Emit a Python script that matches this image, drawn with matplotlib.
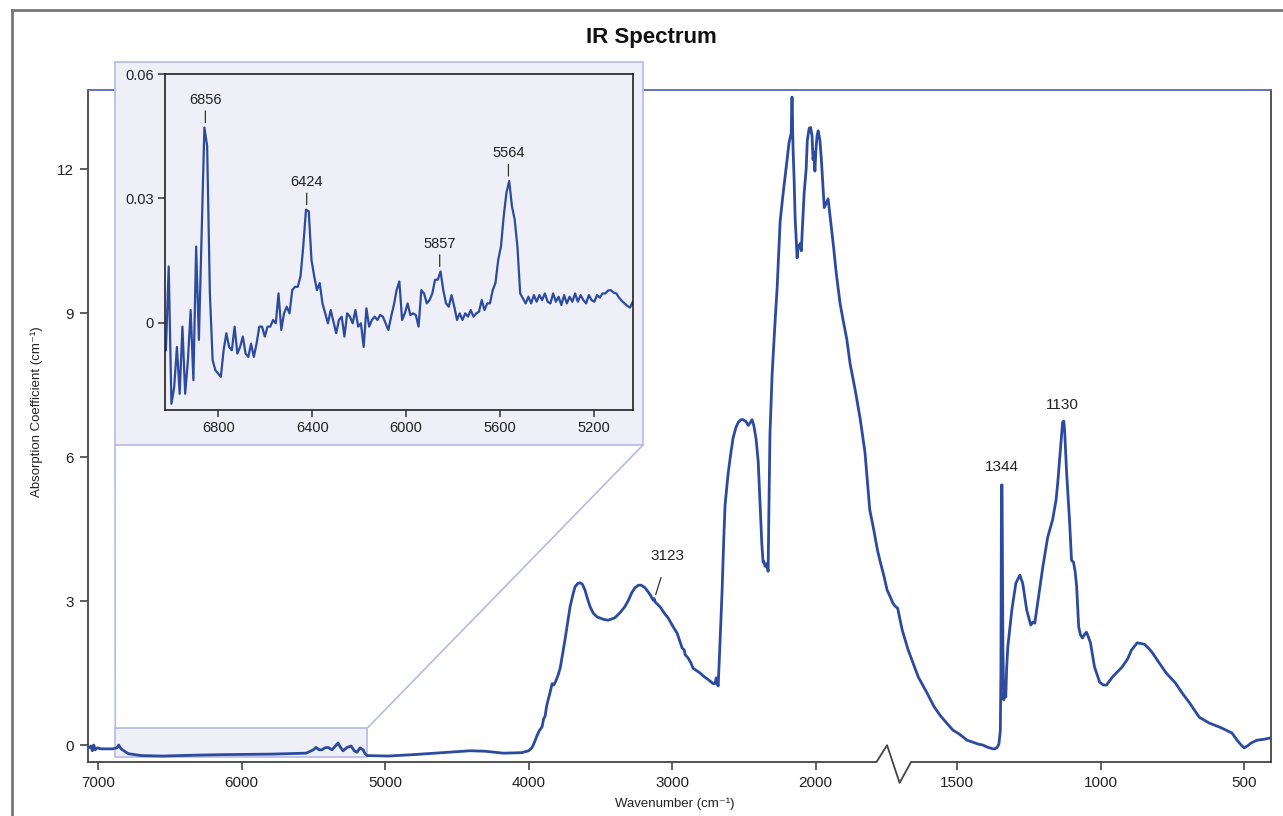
import numpy as np
import matplotlib
matplotlib.use("Agg")
import matplotlib.pyplot as plt
from matplotlib.patches import Rectangle, ConnectionPatch
from matplotlib.lines import Line2D
import matplotlib.transforms as mtransforms

plt.rcParams['font.family'] = ['Liberation Sans', 'DejaVu Sans']

# ---- main spectrum (wavenumber cm-1, absorption coefficient cm-1) ----
wn = [7062, 7049, 7040, 7030, 7020, 7005, 6980, 6900, 6870, 6856, 6840, 6790, 6700, 6554,
      6300, 6122, 5800, 5550, 5500, 5481, 5460, 5440, 5420, 5397, 5370, 5340, 5328, 5310,
      5293, 5265, 5237, 5215, 5195, 5175, 5153, 5140, 5125, 4979, 4800, 4554, 4408, 4300,
      4178, 4050, 4000, 3975, 3960, 3941, 3925, 3906, 3895, 3885, 3875, 3864, 3850, 3836,
      3825, 3815, 3795, 3780, 3760, 3746, 3728, 3711, 3690, 3676, 3655, 3641, 3625, 3606,
      3590, 3571, 3550, 3523, 3480, 3446, 3400, 3362, 3330, 3307, 3280, 3258, 3235, 3215,
      3190, 3174, 3150, 3140, 3132, 3125, 3118, 3084, 3050, 3028, 2990, 2965, 2945, 2930,
      2915, 2909, 2890, 2870, 2854, 2830, 2805, 2784, 2756, 2714, 2700, 2693, 2686, 2679,
      2668, 2652, 2640, 2631, 2610, 2590, 2575, 2555, 2540, 2520, 2505, 2485, 2470, 2455,
      2443, 2430, 2415, 2400, 2387, 2375, 2366, 2360, 2352, 2340, 2331, 2326, 2318, 2303,
      2285, 2268, 2247, 2230, 2213, 2195, 2185, 2170, 2166, 2163, 2160, 2157, 2150, 2143,
      2135, 2129, 2122, 2115, 2108, 2100, 2090, 2080, 2066, 2058, 2045, 2035, 2025, 2018,
      2012, 2005, 1998, 1990, 1982, 1970, 1960, 1950, 1940, 1913, 1895, 1878, 1855, 1829,
      1805, 1783, 1760, 1746, 1741, 1736, 1731, 1727, 1723, 1720, 1716, 1713, 1710, 1707,
      1705, 1702, 1691, 1670, 1653, 1635, 1604, 1580, 1559, 1535, 1514, 1490, 1465, 1445,
      1427, 1410, 1396, 1375, 1368, 1360, 1354, 1349, 1347, 1345, 1343, 1340, 1337, 1334,
      1330, 1327, 1323, 1309, 1295, 1281, 1271, 1257, 1243, 1236, 1229, 1219, 1201, 1184,
      1167, 1155, 1149, 1139, 1132, 1128, 1125, 1118, 1108, 1101, 1094, 1088, 1083, 1076,
      1070, 1063, 1056, 1049, 1042, 1035, 1021, 1003, 990, 979, 958, 924, 905, 892, 872,
      847, 830, 819, 800, 771, 740, 715, 690, 656, 622, 580, 542, 524, 510, 500, 488, 476,
      455, 430, 406]
absorb = [-0.05, -0.02, -0.12, 0.0, -0.1, -0.06, -0.08, -0.08, -0.06, 0.0, -0.08, -0.18, -0.22, -0.23,
          -0.21, -0.2, -0.19, -0.17, -0.1, -0.05, -0.1, -0.1, -0.06, -0.05, -0.1, 0.0, 0.04, -0.05,
          -0.12, -0.05, -0.02, -0.12, -0.15, -0.06, -0.1, -0.18, -0.22, -0.23, -0.2, -0.15, -0.12, -0.13,
          -0.17, -0.16, -0.12, -0.05, 0.05, 0.2, 0.3, 0.38, 0.55, 0.6, 0.8, 0.94, 1.1, 1.28,
          1.25, 1.3, 1.45, 1.6, 1.95, 2.2, 2.55, 2.88, 3.15, 3.3, 3.37, 3.38, 3.35, 3.22,
          3.05, 2.88, 2.75, 2.67, 2.62, 2.6, 2.65, 2.76, 2.88, 3.0, 3.18, 3.28, 3.33, 3.33,
          3.28, 3.22, 3.12, 3.06, 3.02, 3.05, 2.98, 2.88, 2.73, 2.65, 2.45, 2.33, 2.15, 2.02,
          1.98, 1.88, 1.82, 1.72, 1.6, 1.55, 1.5, 1.44, 1.38, 1.28, 1.28, 1.4, 1.3, 1.23,
          2.0, 3.19, 4.3, 5.0, 5.65, 6.1, 6.4, 6.62, 6.72, 6.78, 6.78, 6.74, 6.66, 6.72,
          6.78, 6.65, 6.38, 5.9, 5.0, 4.2, 3.81, 3.82, 3.72, 3.78, 3.62, 4.8, 6.5, 7.73,
          8.7, 9.54, 10.92, 11.4, 11.83, 12.3, 12.56, 12.75, 13.5, 13.5, 12.8, 12.4, 11.8, 11.0,
          10.5, 10.15, 10.4, 10.38, 10.45, 10.3, 10.9, 11.5, 12.0, 12.6, 12.85, 12.87, 12.7, 12.2,
          12.35, 11.96, 12.4, 12.7, 12.8, 12.6, 12.2, 11.7, 11.2, 11.38, 10.9, 10.46, 9.8, 9.19,
          8.8, 8.46, 7.95, 7.38, 6.8, 6.1, 4.9, 4.5, 4.06, 3.81, 3.5, 3.23, 3.1, 2.96,
          2.9, 2.85, 2.4, 1.98, 1.71, 1.42, 1.08, 0.8, 0.62, 0.45, 0.31, 0.22, 0.1, 0.06,
          0.02, 0.0, -0.04, -0.08, -0.08, -0.05, 0.02, 0.3, 1.5, 5.42, 5.42, 2.0, 0.94, 1.2,
          1.0, 1.6, 2.04, 2.81, 3.37, 3.54, 3.37, 2.81, 2.5, 2.56, 2.54, 2.96, 3.71, 4.33,
          4.69, 5.1, 5.46, 6.21, 6.73, 6.75, 6.56, 5.67, 4.69, 3.85, 3.81, 3.6, 3.29, 2.46,
          2.3, 2.23, 2.3, 2.35, 2.25, 2.13, 1.63, 1.31, 1.25, 1.25, 1.42, 1.63, 1.8, 1.98, 2.13,
          2.1, 2.0, 1.92, 1.75, 1.5, 1.3, 1.08, 0.88, 0.58, 0.46, 0.36, 0.25, 0.1, 0.0, -0.06, -0.02, 0.04,
          0.1, 0.12, 0.15]

# ---- near-IR detail (inset), evenly sampled from 7024 to 5034 cm-1 ----
nir_abs = [-6.6, 13.6, -19.5, -15.5, -5.8, -17.1, -0.9, -17.1, -9.0, 3.1, -13.8, 18.4, -4.1, 21.7,
           47.1, 42.7, 7.1, -9.0, -11.4, -12.2, -13.0, -6.6, -2.5, -5.8, -6.6, -0.9, -7.4, -5.8,
           -3.3, -7.4, -8.2, -5.0, -8.2, -5.0, -0.9, -0.9, -3.3, -0.9, -0.9, 0.7, -0.1, 7.1,
           -1.7, 2.3, 3.9, 2.3, 7.9, 8.7, 8.7, 11.2, 18.4, 27.3, 26.9, 15.2, 11.2, 7.9,
           9.6, 4.7, 2.3, -0.1, 3.1, 0.3, -2.5, 0.7, 1.5, -3.3, 2.3, 1.5, -0.1, 3.1,
           -0.9, -0.1, -5.8, 3.5, -0.9, 0.7, 1.5, 0.7, 1.9, 1.5, -0.1, -1.7, 1.5, 4.3,
           7.9, 10.0, 0.7, 2.3, 4.7, 1.9, 2.3, 1.9, -0.9, 7.9, 7.1, 4.7, 5.5, 7.1,
           10.4, 10.4, 12.4, 7.9, 4.7, 3.9, 6.7, 3.9, 0.7, 2.3, 0.7, 2.3, 1.5, 3.1,
           1.5, 2.3, 2.7, 5.5, 3.1, 4.7, 4.7, 7.9, 9.6, 15.2, 18.4, 25.7, 31.4, 34.2,
           28.1, 24.9, 18.4, 7.1, 5.9, 4.7, 6.3, 4.7, 6.7, 5.1, 6.7, 5.5, 7.1, 5.1,
           4.7, 7.1, 5.1, 6.3, 4.3, 6.7, 4.7, 6.3, 5.1, 7.1, 5.1, 6.7, 5.5, 4.7,
           6.7, 5.5, 5.1, 6.7, 6.1, 7.1, 7.1, 7.8, 7.9, 7.3, 7.1, 6.1, 5.3, 4.7,
           4.1, 3.7, 5.1]
nir_wn = np.linspace(7024, 5034, len(nir_abs))
nir_abs = np.array(nir_abs) / 1000.0

nir_peaks = [6856, 6424, 5857, 5564]

line_color = '#2c4a9e'
panel_face = '#eeeff7'
panel_edge = '#b6b9e4'


# broken x-axis: 1750 cm-1 and above at half the scale of the region below 1700
def fwd(w):
    return np.interp(w, [0, 1700, 1750, 8000], [0, 3400, 3735, 9985])


def inv(u):
    return np.interp(u, [0, 3400, 3735, 9985], [0, 1700, 1750, 8000])


W, H = 1283, 816
fig = plt.figure(figsize=(W / 100, H / 100), dpi=100)
ax = fig.add_axes([88 / W, 1 - 762 / H, (1271 - 88) / W, (762 - 90) / H])
ax.set_xscale('function', functions=(fwd, inv))
ax.plot(wn, absorb, color=line_color, lw=2.0, zorder=3)
ax.set_xlim(7070, 406)
ax.set_ylim(-0.354, 13.65)
ax.set_xticks([7000, 6000, 5000, 4000, 3000, 2000, 1500, 1000, 500])
ax.set_xticklabels(['7000', '6000', '5000', '4000', '3000', '2000', '1500', '1000', '500'])
ax.set_yticks([0, 3, 6, 9, 12])
ax.tick_params(axis='both', direction='out', length=6, width=1.2, color='#444444',
               labelsize=11, labelcolor='#222222', pad=4)
for s in ['left', 'right']:
    ax.spines[s].set_color('#444444')
    ax.spines[s].set_linewidth(1.3)
ax.spines['top'].set_color('#5566bb')
ax.spines['top'].set_linewidth(1.3)
ax.spines['bottom'].set_visible(False)

# bottom spine with break marker
tr = mtransforms.blended_transform_factory(ax.transData, ax.transAxes)
ax.add_line(Line2D([7070, 1724, 1713, 1700, 1660, 406], [0, 0, 0.025, -0.031, 0, 0],
                   transform=tr, color='#444444', lw=1.3, clip_on=False))

ax.set_xlabel('Wavenumber (cm\u207b\u00b9)', fontsize=9.5, color='#222222')
ax.xaxis.set_label_coords((675 - 88) / (1271 - 88), -(797 - 762) / (762 - 90))
ax.set_ylabel('Absorption Coefficient (cm\u207b\u00b9)', fontsize=9.5, color='#222222')
ax.yaxis.set_label_coords(-(88 - 43) / (1271 - 88), (762 - 412) / (762 - 90))

# main annotations
ax.annotate('3123', xy=(3123, 3.05), xytext=(3030, 3.8), fontsize=11, color='#222222',
            ha='center', va='bottom',
            arrowprops=dict(arrowstyle='-', color='#333333', lw=0.9, shrinkA=9, shrinkB=3))
ax.text(1344, 5.65, '1344', fontsize=11, color='#222222', ha='center', va='bottom')
ax.text(1132, 6.95, '1130', fontsize=11, color='#222222', ha='center', va='bottom')

# zoom region on main plot
ax.add_patch(Rectangle((5125, -0.25), 6880 - 5125, 0.6, facecolor=panel_face,
                       edgecolor=panel_edge, lw=1.2, zorder=1))

# inset panel + axes
fig.add_artist(Rectangle((115 / W, 1 - 445 / H), (643 - 115) / W, (445 - 62) / H,
                         transform=fig.transFigure, facecolor=panel_face,
                         edgecolor=panel_edge, lw=1.2, zorder=2))
for xa, xb in [(115, 6880), (643, 5125)]:
    cp = ConnectionPatch(xyA=(xa / W, 1 - 445 / H), coordsA='figure fraction',
                         xyB=(xb, 0.35), coordsB='data', axesB=ax,
                         color=panel_edge, lw=1.2, zorder=2)
    fig.add_artist(cp)

ins = fig.add_axes([165 / W, 1 - 410 / H, (633 - 165) / W, (410 - 74) / H])
ins.set_zorder(5)
ins.set_facecolor(panel_face)
ins.plot(nir_wn, nir_abs, color=line_color, lw=1.6)
ins.set_xlim(7028, 5033)
ins.set_ylim(-0.021, 0.06)
ins.set_xticks([6800, 6400, 6000, 5600, 5200])
ins.set_yticks([0, 0.03, 0.06])
ins.set_yticklabels(['0', '0.03', '0.06'])
ins.tick_params(axis='both', direction='out', length=5, width=1.1, color='#333333',
                labelsize=10.5, labelcolor='#222222', pad=3)
for s in ins.spines.values():
    s.set_color('#222222')
    s.set_linewidth(1.2)

for p in nir_peaks:
    yv = nir_abs[np.argmin(np.abs(nir_wn - p))]
    ins.annotate(str(p), xy=(p, yv + 0.0012), xytext=(p, yv + 0.0050), fontsize=10.5,
                 color='#222222', ha='center', va='bottom',
                 arrowprops=dict(arrowstyle='-', color='#333333', lw=0.9, shrinkA=1, shrinkB=0))

fig.text(0.508, 1 - 37 / H, 'IR Spectrum', fontsize=16, fontweight='bold',
         family=['Liberation Sans Narrow', 'Liberation Sans', 'DejaVu Sans'],
         ha='center', va='center', color='#111111')

# outer frame
fig.add_artist(Line2D([12 / W, 1.0], [1 - 10 / H, 1 - 10 / H], transform=fig.transFigure,
                      color='#777777', lw=2))
fig.add_artist(Line2D([12 / W, 12 / W], [1 - 10 / H, 0], transform=fig.transFigure,
                      color='#777777', lw=2))

fig.savefig('out.png', dpi=100)
